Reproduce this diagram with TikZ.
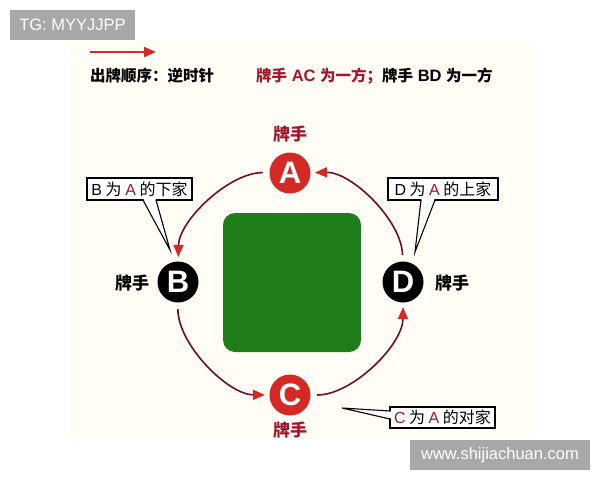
\documentclass[tikz,border=0pt]{standalone}
\usepackage{fontspec}
\setmainfont{Liberation Sans}
\newfontfamily\cjk{Noto Sans CJK SC}
\usetikzlibrary{arrows.meta,calc}
\definecolor{cream}{HTML}{FFFDF6}
\definecolor{wm}{HTML}{A8A8A8}
\definecolor{pred}{HTML}{D42A26}
\definecolor{dred}{HTML}{A0162A}
\definecolor{arcc}{HTML}{6E1024}
\definecolor{felt}{HTML}{1F7E1A}
\newcommand{\lat}[1]{{\normalfont\fontsize{16}{16}\selectfont #1}}
\newcommand{\latb}[1]{{\normalfont\fontsize{16.5}{16.5}\selectfont\bfseries #1}}
\begin{document}
\begin{tikzpicture}[x=1pt,y=-1pt,
  player/.style={circle,minimum size=41pt,inner sep=0pt,font=\fontsize{31}{31}\selectfont\bfseries,text=white},
  redp/.style={player,fill=pred},
  blackp/.style={player,fill=black},
  plabel/.style={font=\cjk\fontsize{17}{17}\selectfont\bfseries,inner sep=0pt},
  turn/.style={arcc,line width=1.6pt,shorten <=27pt,shorten >=25pt,-{Triangle[length=12pt,width=10pt,color=pred]}},
  callout/.style={draw=black,fill=white,line width=1.1pt,inner xsep=3pt,inner ysep=0pt,font=\cjk\fontsize{16}{16}\selectfont,minimum height=22pt},
  pointer/.style={draw=black,line width=1.1pt,line join=miter},
  wmbox/.style={fill=wm,text=white,inner sep=0pt},
  toptext/.style={font=\cjk\fontsize{15.5}{15.5}\selectfont\bfseries,inner sep=0pt,anchor=west}
]
\useasboundingbox (0,0) rectangle (600,480);
\fill[white] (0,0) rectangle (600,480);
\fill[cream] (70,40) rectangle (532,440);

% table
\node[fill=felt,rounded corners=12pt,minimum width=138pt,minimum height=139pt,inner sep=0pt] (table) at (292,282.5) {};

% players
\node[redp] (A) at (290,173) {A};
\node[blackp] (B) at (178,282) {B};
\node[redp] (C) at (290,395) {C};
\node[blackp] (D) at (403,282) {D};

\node[plabel,text=dred] (lA) at (290,134) {牌手};
\node[plabel] (lB) at (132,283) {牌手};
\node[plabel] (lD) at (452,283) {牌手};
\node[plabel,text=dred] (lC) at (290,430) {牌手};

% turn order arcs
\draw[turn] (A.center) to[bend right=45] (B.center);
\draw[turn] (B.center) to[bend right=45] (C.center);
\draw[turn] (C.center) to[bend right=45] (D.center);
\draw[turn] (D.center) to[bend right=45] (A.center);

% legend
\coordinate (l1) at (90,52);
\coordinate (l2) at (156,52);
\draw[pred,line width=2pt,-{Triangle[length=12pt,width=10pt]}] (l1) -- (l2);
\node[toptext] (order) at (90,76) {出牌顺序：逆时针};
\node[toptext] (teams) at (256,76) {\textcolor{dred}{牌手\latb{ AC }为一方；}牌手\latb{ BD }为一方};

% callouts
\node[callout,minimum width=105pt] (cB) at (139.5,189) {\lat{B} 为 \textcolor{dred}{\lat{A}} 的下家};
\coordinate (tB) at (170,250);
\coordinate (bB1) at (143,200);
\coordinate (bB2) at (156,200);
\fill[white] ($(bB1)+(0.5,-1)$) -- (tB) -- ($(bB2)+(-0.5,-1)$) -- cycle;
\draw[pointer] (bB1) -- (tB) -- (bB2);

\node[callout,minimum width=110pt] (cD) at (443,189) {\lat{D} 为 \textcolor{dred}{\lat{A}} 的上家};
\coordinate (tD) at (415,252);
\coordinate (bD1) at (421,200);
\coordinate (bD2) at (435,200);
\fill[white] ($(bD1)+(0.5,-1)$) -- (tD) -- ($(bD2)+(-0.5,-1)$) -- cycle;
\draw[pointer] (bD1) -- (tD) -- (bD2);

\node[callout,minimum width=105pt,minimum height=21pt] (cC) at (442.5,417.5) {\textcolor{dred}{\lat{C}} 为 \textcolor{dred}{\lat{A}} 的对家};
\coordinate (tC) at (342,408);
\coordinate (bC1) at (390,411);
\coordinate (bC2) at (390,419);
\fill[white] ($(bC1)+(1,0.5)$) -- (tC) -- ($(bC2)+(1,-0.5)$) -- cycle;
\draw[pointer] (bC1) -- (tC) -- (bC2);

% watermarks
\node[wmbox,minimum width=125pt,minimum height=30pt,font=\fontsize{16.5}{16.5}\selectfont] (tg) at (72.5,25) {TG: MYYJJPP};
\node[wmbox,minimum width=180pt,minimum height=30pt,font=\fontsize{16.5}{16.5}\selectfont] (site) at (500,455) {www.shijiachuan.com};
\end{tikzpicture}
\end{document}
